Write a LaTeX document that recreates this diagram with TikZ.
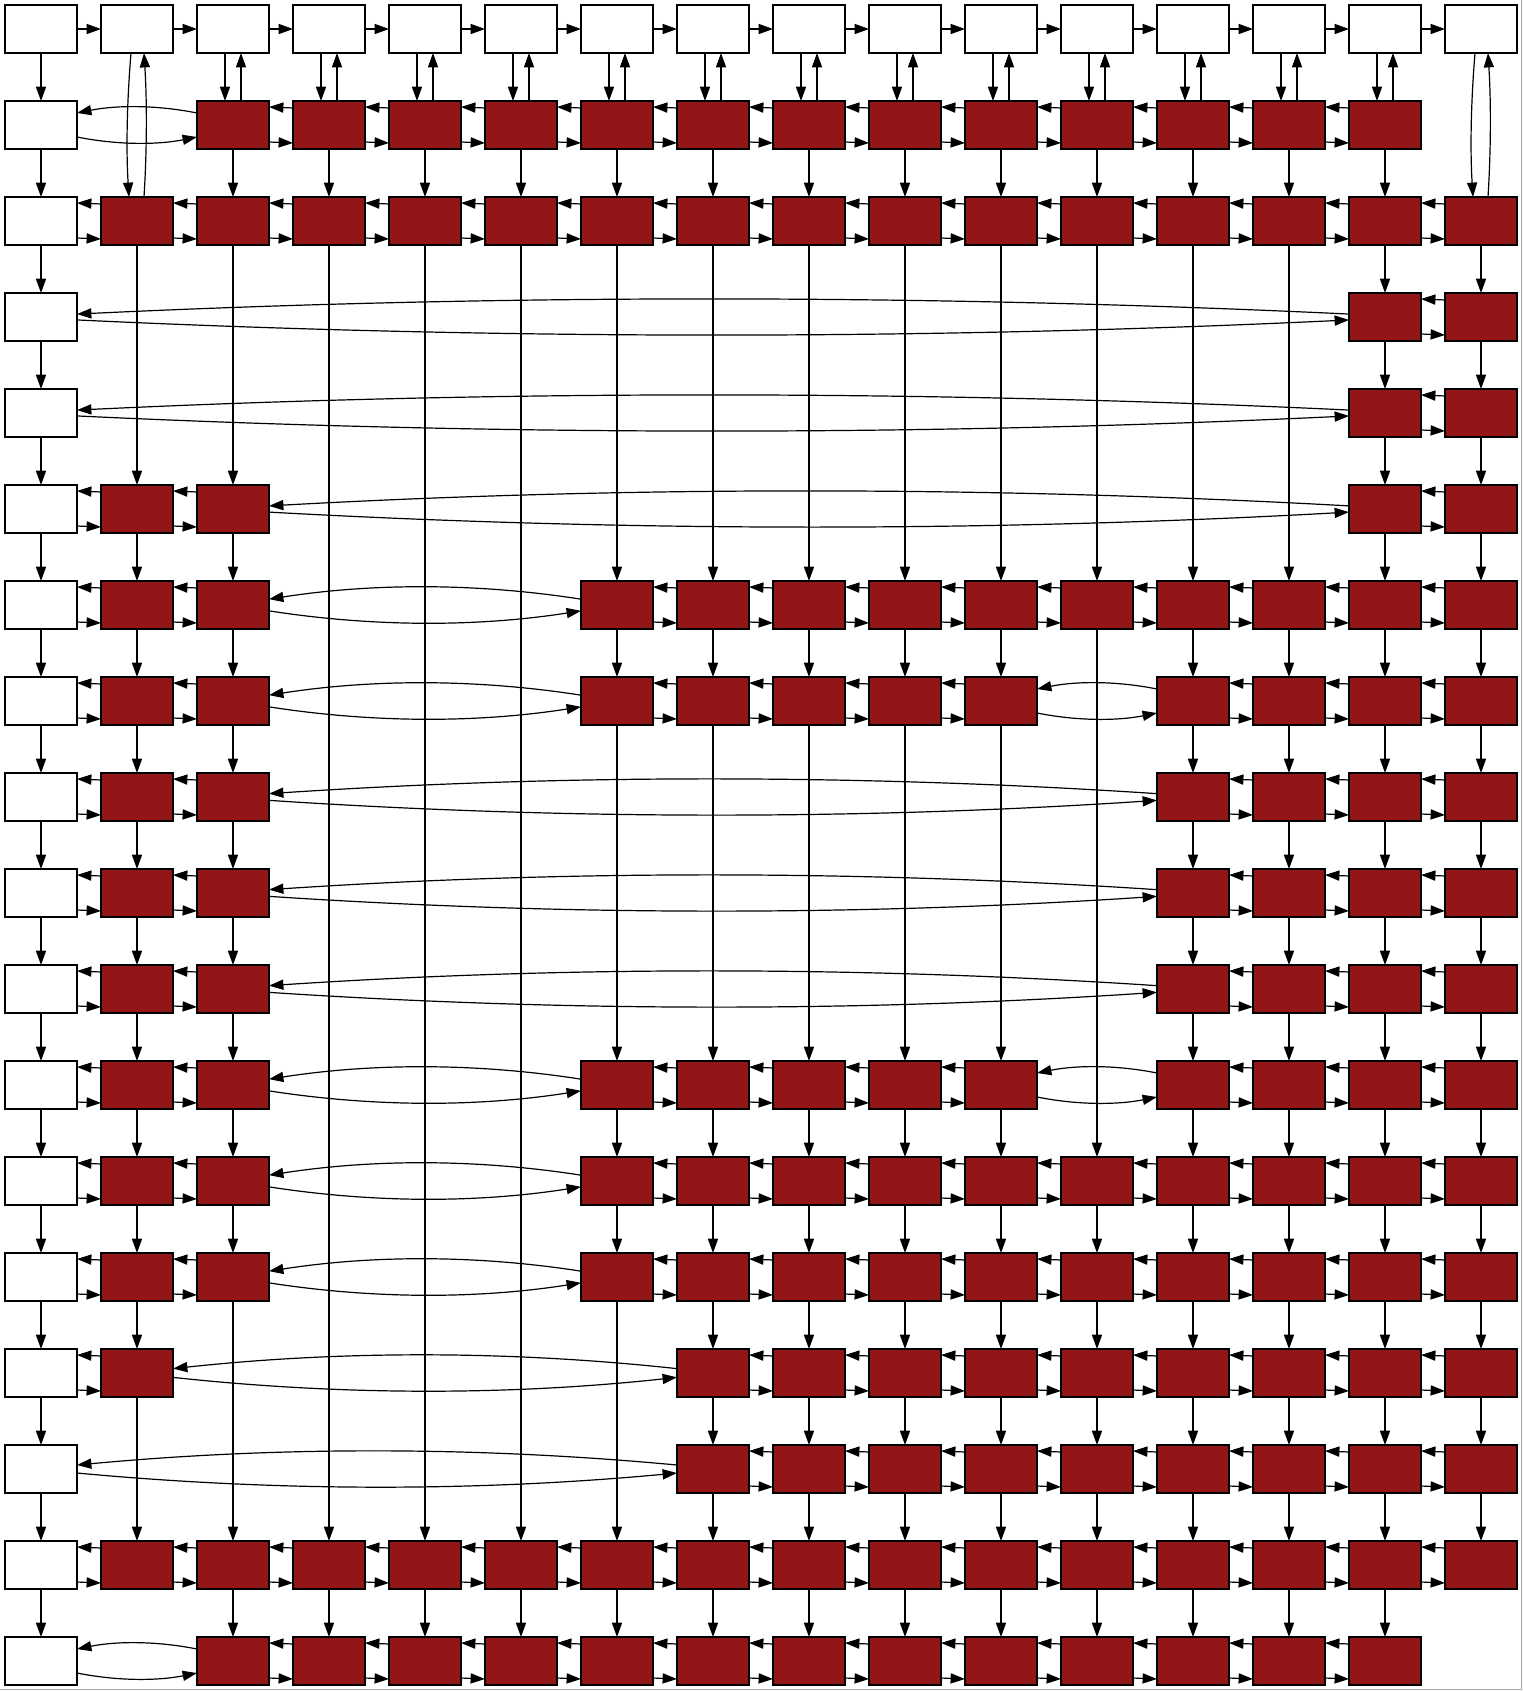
\documentclass[tikz,border=0pt]{standalone}
\usetikzlibrary{arrows.meta,calc}
\definecolor{nodered}{RGB}{146,22,24}
\newcommand\setrow[2]{\foreach \myc in {#2}{\expandafter\xdef\csname cell-#1-\myc\endcsname{1}}}
\begin{document}
\begin{tikzpicture}[x=0.75pt,y=-0.75pt,
  box/.style={draw=black,line width=0.9pt,minimum width=54pt,minimum height=36pt,inner sep=0pt,outer sep=0pt},
  whitebox/.style={box,fill=white},
  redbox/.style={box,fill=nodered},
  edge/.style={draw=black,line width=0.9pt,-{Triangle[length=10.8pt,width=7.6pt]}}]
\useasboundingbox (0,0) rectangle (1523,1691);
% which cells exist
\setrow{0}{0,1,2,3,4,5,6,7,8,9,10,11,12,13,14,15}
\foreach \r in {1,...,17}{\setrow{\r}{0}}
\setrow{1}{2,3,4,5,6,7,8,9,10,11,12,13,14}
\setrow{2}{1,2,3,4,5,6,7,8,9,10,11,12,13,14,15}
\setrow{3}{14,15}
\setrow{4}{14,15}
\setrow{5}{1,2,14,15}
\setrow{6}{1,2,6,7,8,9,10,11,12,13,14,15}
\setrow{7}{1,2,6,7,8,9,10,12,13,14,15}
\setrow{8}{1,2,12,13,14,15}
\setrow{9}{1,2,12,13,14,15}
\setrow{10}{1,2,12,13,14,15}
\setrow{11}{1,2,6,7,8,9,10,12,13,14,15}
\setrow{12}{1,2,6,7,8,9,10,11,12,13,14,15}
\setrow{13}{1,2,6,7,8,9,10,11,12,13,14,15}
\setrow{14}{1,7,8,9,10,11,12,13,14,15}
\setrow{15}{7,8,9,10,11,12,13,14,15}
\setrow{16}{1,2,3,4,5,6,7,8,9,10,11,12,13,14,15}
\setrow{17}{2,3,4,5,6,7,8,9,10,11,12,13,14}
% nodes
\foreach \r in {0,...,17}{
  \foreach \c in {0,...,15}{
    \ifcsname cell-\r-\c\endcsname
      \pgfmathtruncatemacro\isw{(\r==0)||(\c==0)}
      \ifnum\isw=1\relax
        \node[whitebox] (n-\r-\c) at ({41+96*\c},{29+96*\r}) {};
      \else
        \node[redbox] (n-\r-\c) at ({41+96*\c},{29+96*\r}) {};
      \fi
    \fi
  }
}
% top row
\foreach \c [evaluate=\c as \nc using int(\c+1)] in {0,...,14}{
  \draw[edge] (n-0-\c) -- (n-0-\nc);
}
% first column
\foreach \r [evaluate=\r as \nr using int(\r+1)] in {0,...,16}{
  \draw[edge] (n-\r-0) -- (n-\nr-0);
}
% horizontal pairs
\foreach \r in {1,...,17}{
  \gdef\lastc{-1}
  \foreach \c in {0,...,15}{
    \ifcsname cell-\r-\c\endcsname
      \ifnum\lastc>-1\relax
        \pgfmathtruncatemacro\gap{\c-\lastc}
        \ifnum\gap=1\relax
          \draw[edge] ($(n-\r-\c.west)+(0,-17)$) -- ($(n-\r-\lastc.east)+(0,-18)$);
          \draw[edge] ($(n-\r-\lastc.east)+(0,17)$) -- ($(n-\r-\c.west)+(0,18)$);
        \else
          \pgfmathsetmacro\mydd{96*\gap-72}
          \pgfmathsetmacro\myee{2+1200/\mydd}
          \pgfmathsetmacro\mycy{(72-\myee)/3}
          \pgfmathsetmacro\mydx{\mydd/3}
          \draw[edge] ($(n-\r-\c.west)+(0,-\myee)$) .. controls ($(n-\r-\c.west)+(-\mydx,-\mycy)$) and ($(n-\r-\lastc.east)+(\mydx,-\mycy)$) .. ($(n-\r-\lastc.east)+(0,-\myee)$);
          \draw[edge] ($(n-\r-\lastc.east)+(0,\myee)$) .. controls ($(n-\r-\lastc.east)+(\mydx,\mycy)$) and ($(n-\r-\c.west)+(-\mydx,\mycy)$) .. ($(n-\r-\c.west)+(0,\myee)$);
        \fi
      \fi
      \xdef\lastc{\c}
    \fi
  }
}
% vertical edges
\foreach \c in {1,...,15}{
  \gdef\lastr{0}
  \foreach \r in {1,...,17}{
    \ifcsname cell-\r-\c\endcsname
      \ifnum\lastr=0\relax
        \ifnum\r=1\relax
          \draw[edge] ($(n-0-\c.south)+(-8,0)$) -- ($(n-1-\c.north)+(-8,0)$);
          \draw[edge] ($(n-1-\c.north)+(8,0)$) -- ($(n-0-\c.south)+(8,0)$);
        \else
          \draw[edge] ($(n-0-\c.south)+(-6,0)$) .. controls +(-4,48) and +(-3,-48) .. ($(n-\r-\c.north)+(-8,0)$);
          \draw[edge] ($(n-\r-\c.north)+(7,0)$) .. controls +(3,-48) and +(3,48) .. ($(n-0-\c.south)+(7,0)$);
        \fi
      \else
        \draw[edge] (n-\lastr-\c) -- (n-\r-\c);
      \fi
      \xdef\lastr{\r}
    \fi
  }
}
% frame lines at right and bottom
\draw[black!35,line width=1.2pt] (1521.5,0) -- (1521.5,1689.5) -- (0,1689.5);
\end{tikzpicture}
\end{document}
